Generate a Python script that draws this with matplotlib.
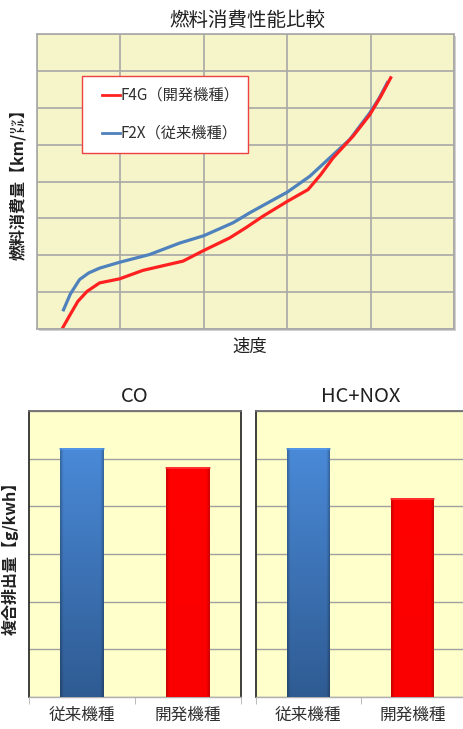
import numpy as np
import matplotlib
matplotlib.use("Agg")
import matplotlib.pyplot as plt
from matplotlib.patches import Rectangle
from matplotlib.lines import Line2D

plt.rcParams['font.family'] = ['Noto Sans CJK JP', 'DejaVu Sans']

# ---- fuel consumption curves (speed vs consumption, arbitrary grid units) ----
speed_f4g = [0.30, 0.40, 0.49, 0.60, 0.75, 0.99, 1.27, 1.50, 1.75, 2.00, 2.31, 2.50, 2.71, 3.00,
             3.25, 3.40, 3.55, 3.79, 3.99, 4.12, 4.25]
fuel_f4g = [0.00, 0.40, 0.75, 1.02, 1.25, 1.36, 1.59, 1.71, 1.84, 2.13, 2.47, 2.74, 3.06, 3.46,
            3.78, 4.18, 4.64, 5.23, 5.81, 6.30, 6.85]
speed_f2x = [0.31, 0.40, 0.51, 0.62, 0.75, 0.99, 1.35, 1.71, 2.00, 2.35, 2.55, 2.75, 3.00, 3.27,
             3.50, 3.75, 3.99, 4.10, 4.21]
fuel_f2x = [0.48, 0.95, 1.34, 1.52, 1.65, 1.81, 2.02, 2.33, 2.53, 2.88, 3.15, 3.40, 3.71, 4.14,
            4.62, 5.14, 5.86, 6.25, 6.72]
label_f4g = "F4G（開発機種）"
label_f2x = "F2X（従来機種）"

# ---- emission comparison ----
models = ["従来機種", "開発機種"]
co_values = [5.23, 4.82]
hcnox_values = [5.23, 4.17]

fig = plt.figure(figsize=(4.63, 7.29), dpi=100)
W, H = 463.0, 729.0


def px_axes(x0, y0, x1, y1):
    return fig.add_axes([x0 / W, 1 - y1 / H, (x1 - x0) / W, (y1 - y0) / H])


# ===================== fuel consumption chart =====================
# soft drop shadow on the right/bottom of the plot area
fig.patches.append(Rectangle((39 / W, 1 - 331 / H), 417 / W, 295 / H, transform=fig.transFigure,
                             facecolor="#d0d0d0", edgecolor="none", zorder=-5))
ax = px_axes(37, 34, 454, 329)
ax.set_zorder(2)
ax.set_facecolor("#f5f5c9")
ax.set_xlim(0, 5)
ax.set_ylim(0, 8)
ax.set_xticks(np.arange(0, 6))
ax.set_yticks(np.arange(0, 9))
ax.grid(True, color="#a8a8a8", lw=1.2)
ax.tick_params(length=0, labelbottom=False, labelleft=False)
for s in ax.spines.values():
    s.set_color("#a8a8a8")
    s.set_linewidth(1.2)
ax.set_axisbelow(True)

ax.plot(speed_f2x, fuel_f2x, color="#4f81bd", lw=2.3, solid_capstyle="butt")
ax.plot(speed_f4g, fuel_f4g, color="#ff2020", lw=2.3, solid_capstyle="butt")

# legend box
lx0, ly0, lx1, ly1 = (82 - 37) / 417, (329 - 153) / 295, (248 - 37) / 417, (329 - 76) / 295
ax.add_patch(Rectangle((lx0, ly0), lx1 - lx0, ly1 - ly0, transform=ax.transAxes,
                       facecolor="white", edgecolor="#f04040", lw=1.0, zorder=5))
for (yy, col, lab) in [((329 - 95) / 295, "#ff2020", label_f4g),
                       ((329 - 133) / 295, "#4f81bd", label_f2x)]:
    ax.add_line(Line2D([(102 - 37) / 417, (120 - 37) / 417], [yy, yy], transform=ax.transAxes,
                       color=col, lw=2.0, zorder=6))
    ax.text((121 - 37) / 417, yy, lab, transform=ax.transAxes, fontsize=11,
            va="center", ha="left", color="#303030", zorder=6)

fig.text(247 / W, 1 - 20 / H, "燃料消費性能比較", ha="center", va="center", fontsize=14,
         color="#202020")
fig.text(18 / W, 1 - 180 / H, "燃料消費量【km/㍑】", ha="center", va="center", fontsize=11.5,
         rotation=90, fontweight="bold", color="#202020")
fig.text(250 / W, 1 - 347 / H, "速度", ha="center", va="center", fontsize=12.5, color="#202020")


# ===================== emission charts =====================
def draw_shaded_bar(axis, bar, img, cap_col):
    x0, w, h = bar.get_x(), bar.get_width(), bar.get_height()
    im = axis.imshow(img, extent=(x0, x0 + w, 0, h), aspect="auto", zorder=3,
                     interpolation="bilinear")
    im.set_clip_path(bar)
    axis.plot([x0, x0 + w], [h - 0.02, h - 0.02], color=cap_col, lw=1.2, zorder=4, alpha=0.7)


def shaded_image(top_col, bot_col, edge_dark, ny=200, nx=60):
    t = np.linspace(0, 1, ny)[:, None, None]            # 0 = top, 1 = bottom
    xs = np.linspace(-1, 1, nx)[None, :, None]
    top = np.array(matplotlib.colors.to_rgb(top_col))[None, None, :]
    bot = np.array(matplotlib.colors.to_rgb(bot_col))[None, None, :]
    img = top * (1 - t) + bot * t
    img = np.repeat(img, nx, axis=1)
    edge = np.clip((np.abs(xs) - 0.85) / 0.15, 0, 1)
    return np.clip(img * (1 - edge * edge_dark), 0, 1)


blue_img = shaded_image("#4a8ad8", "#2f5b92", 0.25)
red_img = shaded_image("#ff0000", "#fa0000", 0.2)


def emission_axes(rect_px, values, title):
    a = px_axes(*rect_px)
    a.set_facecolor("#ffffcc")
    a.set_yticks(np.arange(0, 7))
    a.yaxis.grid(True, color="#a0a0a0", lw=1.0)
    a.set_axisbelow(True)
    a.tick_params(axis="y", length=0, labelleft=False)
    a.set_xticks([0, 1])
    a.set_xticklabels(models, fontsize=12, color="#303030")
    a.tick_params(axis="x", length=0, pad=7)
    a.set_xticks([-0.5, 0.5, 1.5], minor=True)
    a.tick_params(axis="x", which="minor", length=5, color="#b0b0b0", direction="out")
    for side in ("left", "right"):
        a.spines[side].set_color("#303030")
        a.spines[side].set_linewidth(1.3)
    a.spines["top"].set_color("#707070")
    a.spines["top"].set_linewidth(1.3)
    a.spines["bottom"].set_color("#b0b0b0")
    a.spines["bottom"].set_linewidth(1.0)

    bars = a.bar(range(len(values)), values, width=0.41, color="none", zorder=3)
    draw_shaded_bar(a, bars[0], blue_img, "#5aa0f0")
    draw_shaded_bar(a, bars[1], red_img, "#ff5050")
    a.set_xlim(-0.5, 1.5)
    a.set_ylim(0, 6)

    cx = (rect_px[0] + rect_px[2]) / 2
    fig.text(cx / W, 1 - 396 / H, title, ha="center", va="center", fontsize=14.5,
             color="#202020")
    return a


emission_axes((29, 411, 241, 697), co_values, "CO")
emission_axes((256, 411, 465, 697), hcnox_values, "HC+NOX")

fig.text(10 / W, 1 - 554 / H, "複合排出量【g/kwh】", ha="center", va="center", fontsize=11.5,
         rotation=90, fontweight="bold", color="#202020")

fig.savefig("out.png", dpi=100)
